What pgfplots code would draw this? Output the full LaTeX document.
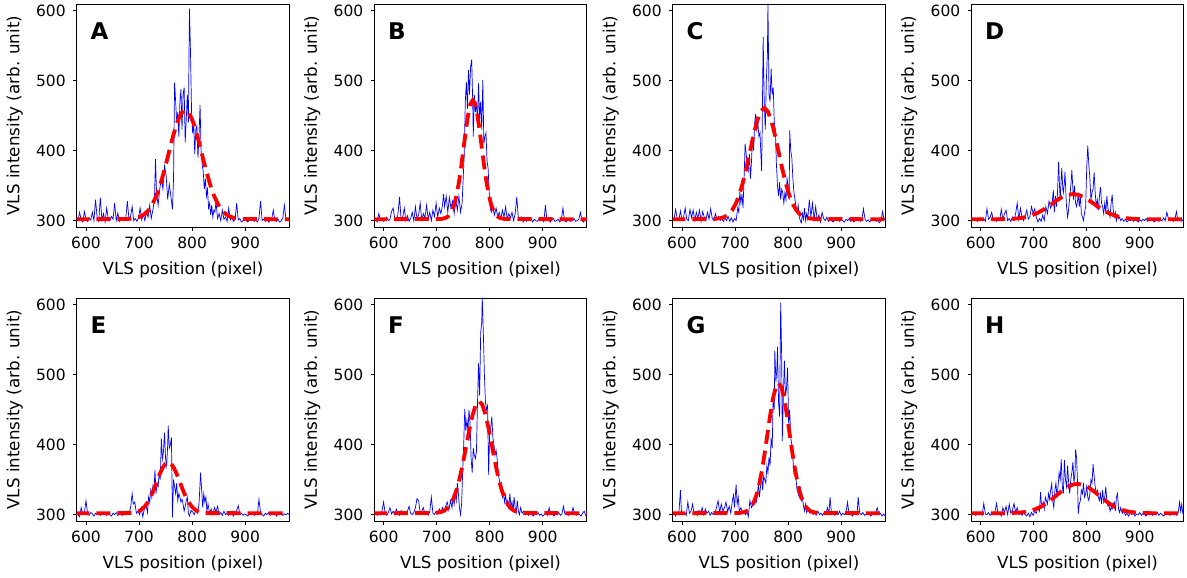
\documentclass[border=0pt]{standalone}
\usepackage{fontspec}
\setmainfont{DejaVu Sans}
\usepackage{pgfplots}
\pgfplotsset{compat=1.18}
\pgfplotsset{
 vls/.style={
  scale only axis, width=212.5pt, height=223.3pt,
  xmin=582.5, xmax=983, ymin=290.5, ymax=609.5,
  xtick={600,700,800,900}, ytick={300,400,500,600},
  tick align=outside, xtick pos=left, ytick pos=left,
  major tick length=3.5pt,
  every tick/.style={black, line width=0.8pt},
  axis line style={line width=0.8pt},
  /pgf/number format/assume math mode=true,
  ticklabel style={font=\fontsize{15.5}{15.5}\selectfont},
  yticklabel style={xshift=-4pt}, xticklabel style={yshift=-3pt},
  label style={font=\fontsize{16.7}{16.7}\selectfont},
  xlabel={VLS position (pixel)}, ylabel={VLS intensity (arb. unit)},
  xlabel style={at={(axis description cs:0.5,-0.1926)}, anchor=center},
  ylabel style={at={(axis description cs:-0.292,0.5)}, anchor=center},
 },
 blueline/.style={color={rgb,255:red,0;green,0;blue,255}, line width=0.7pt, mark=none},
 redfit/.style={color={rgb,255:red,255;green,0;blue,0}, line width=3.8pt, dash pattern=on 14pt off 7pt, mark=none},
}
\newcommand{\panel}[1]{\node[anchor=base west, xshift=10.3pt, yshift=-35.3pt, font=\fontsize{23}{23}\selectfont\bfseries] at (rel axis cs:0,1) {#1};}
\begin{document}
\begin{tikzpicture}
\useasboundingbox (0,0) rectangle (1187pt,578pt);
% ---------------- A
\begin{axis}[vls, at={(76.7pt,350.7pt)}, anchor=south west]
\addplot[blueline] coordinates {(585,300) (588,312) (591,301) (594,298) (597,313) (600,302) (603,299) (606,304) (609,301) (612,312) (615,300) (618,330) (621,305) (624,299) (627,333) (630,301) (633,310) (636,298) (639,318) (642,303) (645,300) (648,306) (651,302) (654,325) (657,300) (660,311) (663,299) (666,304) (669,301) (672,300) (675,303) (678,328) (681,302) (684,306) (687,320) (690,300) (693,303) (696,299) (699,304) (702,318) (705,301) (708,309) (711,300) (714,312) (717,305) (720,322) (723,303) (726,315) (729,330) (731,388) (733,340) (736,322) (739,345) (742,360) (745,345) (748,378) (751,365) (754,330) (757,352) (760,335) (763,316) (765,360) (767,497) (769,470) (771,440) (773,455) (775,420) (777,470) (779,488) (781,430) (783,480) (785,490) (787,412) (789,445) (791,480) (793,440) (795,603) (797,540) (799,455) (801,425) (803,440) (805,395) (807,430) (809,435) (811,390) (813,420) (815,465) (817,400) (819,380) (821,370) (823,345) (825,360) (827,335) (829,345) (831,318) (833,325) (835,308) (837,322) (839,305) (841,315) (843,312) (845,327) (848,303) (851,310) (854,300) (857,315) (860,302) (863,305) (866,299) (869,318) (872,301) (875,304) (878,299) (881,302) (884,325) (887,301) (890,303) (893,298) (896,300) (899,303) (902,300) (905,298) (908,302) (911,300) (914,304) (917,299) (920,301) (923,298) (926,303) (929,328) (932,300) (935,302) (938,299) (941,303) (944,298) (947,300) (950,302) (953,315) (956,300) (959,299) (962,302) (965,298) (968,300) (971,304) (974,322) (977,301) (980,303) (983,300)};
\addplot[redfit] coordinates {(580,302) (678.5,302.3) (694,303.7) (701.75,305.6) (709.5,308.8) (717.25,314.4) (725,323.1) (732.75,335.7) (740.5,352.7) (748.25,373.4) (756,396.6) (763.75,419.7) (771.5,439.7) (779.25,453.2) (787,458) (794.75,453.2) (802.5,439.7) (810.25,419.7) (818,396.6) (825.75,373.4) (833.5,352.7) (841.25,335.7) (849,323.1) (856.75,314.4) (864.5,308.8) (872.25,305.6) (880,303.7) (895.5,302.3) (990,302)};
\panel{A}
\end{axis}
% ---------------- B
\begin{axis}[vls, at={(374.3pt,350.7pt)}, anchor=south west]
\addplot[blueline] coordinates {(585,302) (588,298) (591,310) (594,300) (597,303) (600,299) (603,301) (606,305) (609,300) (612,302) (615,313) (618,318) (621,303) (624,300) (627,309) (630,334) (633,302) (636,305) (639,318) (642,300) (645,307) (648,299) (651,303) (654,312) (657,300) (660,320) (663,302) (666,308) (669,325) (672,301) (675,310) (678,304) (681,322) (684,303) (687,312) (690,300) (693,315) (696,306) (699,325) (702,305) (705,318) (708,310) (711,322) (713,338) (715,320) (718,335) (721,312) (724,333) (727,318) (730,328) (733,310) (736,330) (739,315) (742,335) (745,312) (748,325) (750,360) (752,395) (754,470) (756,498) (758,460) (760,515) (762,480) (764,520) (766,530) (768,470) (769,420) (771,480) (773,455) (775,470) (777,440) (779,496) (781,445) (783,470) (785,430) (787,501) (789,410) (791,420) (793,425) (795,385) (797,375) (799,340) (801,318) (803,312) (806,318) (809,308) (812,318) (815,306) (818,312) (821,303) (824,315) (827,305) (830,320) (833,302) (836,310) (839,304) (842,312) (845,300) (848,310) (851,334) (854,303) (857,300) (860,305) (863,298) (866,302) (869,299) (872,304) (875,300) (878,303) (881,298) (884,302) (887,300) (890,299) (893,303) (896,300) (899,302) (902,298) (905,322) (908,300) (911,302) (914,298) (917,301) (920,303) (923,299) (926,300) (929,302) (932,298) (935,301) (938,318) (941,300) (944,298) (947,302) (950,300) (953,299) (956,301) (959,303) (962,299) (965,300) (968,302) (971,312) (974,300) (977,298) (980,302) (983,300)};
\addplot[redfit] coordinates {(580,302) (708.5,302.4) (717,303.9) (721.25,305.9) (725.5,309.5) (729.75,315.5) (734,325.0) (738.25,338.8) (742.5,357.2) (746.75,379.8) (751,405.1) (755.25,430.3) (759.5,452.0) (763.75,466.8) (768,472) (772.25,466.8) (776.5,452.0) (780.75,430.3) (785,405.1) (789.25,379.8) (793.5,357.2) (797.75,338.8) (802,325.0) (806.25,315.5) (810.5,309.5) (814.75,305.9) (819,303.9) (827.5,302.4) (990,302)};
\panel{B}
\end{axis}
% ---------------- C
\begin{axis}[vls, at={(672.7pt,350.7pt)}, anchor=south west]
\addplot[blueline] coordinates {(585,302) (588,316) (591,303) (594,300) (597,314) (600,301) (603,305) (606,318) (609,302) (612,300) (615,316) (618,304) (621,315) (624,300) (627,312) (630,303) (633,315) (636,299) (639,313) (642,305) (645,300) (648,312) (651,302) (654,317) (657,303) (660,300) (663,310) (666,302) (669,306) (672,300) (675,303) (678,299) (681,304) (684,300) (687,306) (690,299) (693,304) (696,298) (699,303) (702,300) (705,318) (707,312) (709,341) (711,325) (713,338) (715,318) (717,360) (719,410) (721,395) (723,380) (725,372) (727,395) (729,360) (731,385) (733,420) (735,400) (737,440) (739,453) (741,430) (743,440) (745,420) (747,425) (749,390) (750,371) (751,420) (753,562) (755,470) (757,430) (759,500) (761,540) (762,610) (764,480) (766,470) (768,517) (770,480) (772,490) (774,440) (776,430) (778,380) (780,350) (782,335) (784,355) (786,330) (788,345) (790,340) (792,325) (794,340) (796,330) (798,360) (800,350) (802,330) (803,429) (805,400) (807,390) (809,360) (811,340) (813,330) (815,320) (817,312) (819,322) (821,305) (823,300) (825,297) (827,310) (829,302) (831,318) (833,300) (835,310) (837,302) (840,330) (843,305) (846,325) (849,302) (852,320) (855,300) (858,308) (861,298) (864,312) (867,303) (870,300) (873,305) (876,299) (879,302) (882,300) (885,298) (888,302) (891,300) (894,303) (897,299) (900,302) (903,300) (906,298) (909,302) (912,300) (915,303) (918,299) (921,301) (924,298) (927,302) (930,300) (933,303) (936,299) (939,301) (942,317) (945,302) (948,299) (951,301) (954,298) (957,302) (960,300) (963,303) (966,299) (969,301) (972,297) (975,300) (978,313) (981,301) (983,303)};
\addplot[redfit] coordinates {(580,302) (660.5,302.35) (674,303.8) (680.75,305.6) (687.5,309.0) (694.25,314.7) (701,323.5) (707.75,336.4) (714.5,353.6) (721.25,374.8) (728,398.4) (734.75,422.0) (741.5,442.3) (748.25,456.1) (755,461) (761.75,456.1) (768.5,442.3) (775.25,422.0) (782,398.4) (788.75,374.8) (795.5,353.6) (802.25,336.4) (809,323.5) (815.75,314.7) (822.5,309.0) (829.25,305.6) (836,303.8) (849.5,302.35) (990,302)};
\panel{C}
\end{axis}
% ---------------- D
\begin{axis}[vls, at={(971.3pt,350.7pt)}, anchor=south west]
\addplot[blueline] coordinates {(585,302) (588,300) (591,303) (594,299) (597,304) (600,301) (603,300) (606,303) (609,299) (612,317) (615,302) (618,305) (621,312) (624,300) (627,303) (630,299) (633,304) (636,301) (639,316) (642,302) (645,310) (648,315) (651,300) (654,303) (657,299) (660,305) (663,300) (666,310) (669,325) (672,302) (675,318) (678,305) (681,300) (684,306) (687,315) (690,302) (693,306) (696,320) (699,310) (702,317) (705,305) (708,298) (711,303) (714,299) (717,308) (720,300) (723,320) (726,310) (729,328) (732,318) (735,325) (737,344) (739,312) (741,335) (743,320) (745,340) (747,384) (749,345) (750,330) (752,360) (753,375) (755,345) (756,340) (758,355) (759,370) (761,335) (762,320) (764,305) (765,310) (767,325) (769,340) (771,360) (772,372) (774,345) (775,330) (777,350) (779,325) (781,320) (783,330) (784,340) (786,320) (788,335) (790,310) (792,305) (794,300) (796,312) (798,320) (800,375) (802,407) (804,380) (806,360) (808,330) (810,340) (812,345) (814,369) (816,340) (818,320) (820,330) (822,315) (824,335) (826,348) (828,325) (830,320) (832,310) (834,325) (836,312) (838,335) (840,318) (842,310) (844,305) (846,325) (848,337) (850,315) (852,305) (854,312) (856,300) (858,308) (860,303) (862,305) (864,300) (867,303) (870,299) (873,302) (876,298) (879,301) (882,300) (885,303) (888,299) (891,302) (894,300) (897,298) (900,301) (903,299) (906,302) (909,300) (912,303) (915,299) (918,301) (921,300) (924,302) (927,298) (930,300) (933,303) (936,299) (939,301) (942,300) (945,304) (948,300) (951,312) (954,303) (957,300) (960,302) (963,299) (966,301) (969,313) (972,300) (975,302) (978,299) (981,301) (983,299)};
\addplot[redfit] coordinates {(580,302) (634,302.1) (654,302.4) (664,302.8) (674,303.6) (684,304.9) (694,306.9) (704,309.8) (714,313.7) (724,318.5) (734,323.8) (744,329.2) (754,333.8) (764,336.9) (774,338) (784,336.9) (794,333.8) (804,329.2) (814,323.8) (824,318.5) (834,313.7) (844,309.8) (854,306.9) (864,304.9) (874,303.6) (884,302.8) (894,302.4) (914,302.1) (990,302)};
\panel{D}
\end{axis}
% ---------------- E
\begin{axis}[vls, at={(76.7pt,56.7pt)}, anchor=south west]
\addplot[blueline] coordinates {(585,300) (588,297) (591,310) (594,300) (597,303) (600,320) (603,302) (606,299) (609,303) (612,301) (615,298) (618,302) (621,300) (624,303) (627,299) (630,301) (633,300) (636,303) (639,299) (642,302) (645,300) (648,298) (651,302) (654,300) (657,303) (660,299) (663,301) (666,302) (669,299) (672,301) (675,300) (678,305) (681,301) (684,310) (687,330) (689,315) (692,318) (695,302) (698,305) (701,300) (704,310) (707,297) (710,308) (713,315) (716,303) (718,325) (720,318) (722,335) (724,325) (726,340) (728,330) (730,364) (732,330) (734,345) (736,340) (738,360) (740,350) (742,409) (744,380) (746,390) (748,417) (750,380) (752,370) (754,400) (755,427) (757,395) (759,400) (761,410) (763,296) (765,350) (767,340) (769,330) (771,345) (773,320) (775,330) (777,325) (779,318) (781,322) (783,315) (785,305) (787,312) (789,320) (791,325) (793,302) (795,298) (798,306) (801,304) (804,300) (807,306) (810,302) (813,315) (816,360) (818,335) (820,310) (822,330) (824,318) (826,325) (828,305) (830,315) (833,302) (836,308) (839,300) (842,310) (845,304) (848,312) (851,300) (854,303) (857,299) (860,305) (863,300) (866,302) (869,299) (872,303) (875,301) (878,298) (881,302) (884,306) (887,313) (890,300) (893,302) (896,299) (899,301) (902,300) (905,298) (908,302) (911,300) (914,303) (917,299) (920,301) (923,300) (926,322) (929,303) (932,300) (935,298) (938,302) (941,300) (944,303) (947,299) (950,301) (953,300) (956,302) (959,298) (962,301) (965,300) (968,303) (971,299) (974,301) (977,300) (980,302) (983,300)};
\addplot[redfit] coordinates {(580,302) (678,302.2) (689,302.8) (694.5,303.7) (700,305.2) (705.5,307.8) (711,311.9) (716.5,317.8) (722,325.7) (727.5,335.4) (733,346.3) (738.5,357.1) (744,366.4) (749.5,372.8) (755,375) (760.5,372.8) (766,366.4) (771.5,357.1) (777,346.3) (782.5,335.4) (788,325.7) (793.5,317.8) (799,311.9) (804.5,307.8) (810,305.2) (815.5,303.7) (821,302.8) (832,302.2) (990,302)};
\panel{E}
\end{axis}
% ---------------- F
\begin{axis}[vls, at={(374.3pt,56.7pt)}, anchor=south west]
\addplot[blueline] coordinates {(585,302) (588,299) (591,303) (594,300) (597,305) (600,318) (603,302) (606,299) (609,303) (612,310) (615,301) (618,305) (621,300) (624,308) (627,302) (630,299) (633,306) (636,301) (639,303) (642,300) (645,305) (648,312) (651,302) (654,300) (657,303) (660,310) (663,323) (666,320) (669,303) (672,305) (675,310) (678,300) (681,303) (684,299) (687,304) (690,325) (693,302) (696,300) (699,305) (702,301) (705,308) (708,303) (711,310) (714,304) (717,312) (720,318) (723,306) (726,320) (729,310) (731,325) (733,315) (735,330) (737,320) (739,345) (741,330) (743,310) (745,300) (747,315) (749,360) (751,400) (753,451) (755,420) (757,435) (759,420) (761,450) (763,430) (765,380) (767,360) (769,395) (771,385) (773,380) (775,390) (777,460) (779,516) (781,470) (783,560) (785,575) (786,610) (788,560) (790,500) (792,460) (794,450) (796,456) (798,357) (800,420) (802,425) (804,440) (806,410) (808,400) (810,385) (812,392) (814,380) (816,360) (818,350) (820,340) (822,345) (824,325) (826,330) (828,318) (830,328) (832,315) (834,320) (836,310) (838,330) (840,312) (842,318) (844,305) (846,325) (848,310) (850,303) (852,320) (854,305) (856,300) (858,310) (861,302) (864,305) (867,300) (870,303) (873,299) (876,302) (879,300) (882,298) (885,301) (888,300) (891,303) (894,299) (897,301) (900,298) (903,300) (906,302) (909,299) (912,310) (915,300) (918,302) (921,298) (924,301) (927,300) (930,303) (933,299) (936,301) (939,312) (942,300) (945,302) (948,299) (951,301) (954,300) (957,310) (960,302) (963,299) (966,303) (969,300) (972,298) (975,302) (978,305) (981,299) (983,301)};
\addplot[redfit] coordinates {(580,302) (696,302.35) (708,303.8) (714,305.6) (720,309.0) (726,314.7) (732,323.6) (738,336.6) (744,354.0) (750,375.2) (756,399.0) (762,422.8) (768,443.2) (774,457.1) (780,462) (786,457.1) (792,443.2) (798,422.8) (804,399.0) (810,375.2) (816,354.0) (822,336.6) (828,323.6) (834,314.7) (840,309.0) (846,305.6) (852,303.8) (864,302.35) (990,302)};
\panel{F}
\end{axis}
% ---------------- G
\begin{axis}[vls, at={(672.7pt,56.7pt)}, anchor=south west]
\addplot[blueline] coordinates {(585,302) (588,298) (591,303) (594,300) (597,335) (599,305) (602,300) (605,303) (608,299) (611,318) (614,302) (617,305) (620,315) (623,300) (626,303) (629,299) (632,306) (635,302) (638,310) (641,300) (644,308) (647,302) (650,305) (653,299) (656,303) (659,300) (662,302) (665,310) (668,320) (671,303) (674,315) (677,305) (680,310) (683,318) (686,304) (689,312) (692,302) (695,320) (697,328) (699,310) (702,343) (704,315) (706,325) (708,305) (711,310) (714,302) (717,306) (720,300) (723,304) (725,297) (728,320) (731,310) (734,315) (737,325) (740,318) (742,330) (744,343) (746,325) (748,340) (750,360) (752,335) (754,355) (756,350) (758,345) (760,370) (762,360) (764,382) (766,370) (768,410) (770,395) (772,470) (774,450) (775,534) (777,490) (779,510) (780,540) (782,460) (784,440) (786,603) (788,520) (789,405) (791,470) (793,520) (795,470) (797,480) (799,510) (801,430) (803,450) (805,410) (807,400) (809,380) (811,360) (813,365) (815,350) (817,335) (819,330) (821,325) (823,340) (825,320) (827,325) (829,312) (831,305) (833,315) (835,303) (838,310) (841,302) (844,306) (847,300) (850,303) (853,299) (856,305) (859,300) (862,302) (865,299) (868,303) (871,300) (874,310) (877,302) (879,325) (882,300) (885,303) (888,299) (891,302) (894,300) (897,305) (900,299) (903,302) (906,300) (909,303) (912,318) (915,300) (918,302) (921,298) (924,301) (927,303) (930,300) (932,325) (935,302) (938,300) (941,303) (944,299) (947,301) (950,300) (953,302) (956,298) (959,301) (962,300) (965,303) (968,310) (971,300) (974,302) (977,298) (980,301) (983,298)};
\addplot[redfit] coordinates {(580,302) (708.5,302.4) (719,304.1) (724.25,306.2) (729.5,310.2) (734.75,316.8) (740,327.2) (745.25,342.2) (750.5,362.4) (755.75,387.2) (761,414.8) (766.25,442.4) (771.5,466.1) (776.75,482.3) (782,488) (787.25,482.3) (792.5,466.1) (797.75,442.4) (803,414.8) (808.25,387.2) (813.5,362.4) (818.75,342.2) (824,327.2) (829.25,316.8) (834.5,310.2) (839.75,306.2) (845,304.1) (855.5,302.4) (990,302)};
\panel{G}
\end{axis}
% ---------------- H
\begin{axis}[vls, at={(971.3pt,56.7pt)}, anchor=south west]
\addplot[blueline] coordinates {(585,300) (588,302) (591,299) (594,301) (597,300) (600,303) (603,299) (606,316) (609,301) (612,300) (615,303) (618,299) (621,302) (624,300) (627,304) (630,316) (633,300) (636,302) (639,298) (642,310) (645,303) (648,312) (651,300) (654,315) (657,302) (660,306) (663,316) (666,303) (669,310) (672,300) (675,302) (678,299) (681,303) (684,300) (687,298) (690,302) (693,297) (696,303) (699,299) (702,305) (705,302) (708,310) (711,305) (713,332) (715,312) (718,318) (720,308) (722,325) (724,320) (726,315) (728,330) (730,322) (732,335) (734,344) (736,320) (738,310) (740,335) (742,345) (744,325) (746,340) (748,360) (750,350) (752,379) (754,340) (756,330) (758,378) (760,350) (762,340) (764,370) (766,345) (768,330) (770,350) (772,360) (774,375) (776,345) (778,360) (779,393) (781,380) (783,340) (784,301) (786,315) (788,320) (790,335) (792,330) (794,345) (796,325) (798,330) (800,340) (802,325) (804,320) (806,330) (808,350) (810,345) (812,372) (814,355) (816,340) (818,330) (820,335) (822,325) (824,320) (826,330) (828,315) (830,335) (832,318) (834,325) (836,340) (838,318) (840,312) (842,315) (844,305) (846,310) (848,308) (850,315) (852,318) (854,305) (856,325) (858,330) (860,308) (862,303) (864,310) (867,302) (870,305) (873,299) (876,302) (879,298) (882,303) (885,300) (888,302) (891,298) (894,301) (897,300) (900,303) (903,299) (906,302) (909,300) (912,298) (915,301) (918,300) (921,302) (924,299) (927,301) (930,300) (933,303) (936,299) (939,302) (942,300) (945,298) (948,301) (951,300) (954,302) (957,299) (960,301) (963,300) (966,302) (969,299) (972,301) (975,318) (977,305) (979,315) (981,302) (983,300)};
\addplot[redfit] coordinates {(580,302) (643,302.1) (663,302.5) (673,303.0) (683,303.8) (693,305.3) (703,307.7) (713,311.1) (723,315.6) (733,321.2) (743,327.5) (753,333.7) (763,339.1) (773,342.7) (783,344) (793,342.7) (803,339.1) (813,333.7) (823,327.5) (833,321.2) (843,315.6) (853,311.1) (863,307.7) (873,305.3) (883,303.8) (893,303.0) (903,302.5) (923,302.1) (990,302)};
\panel{H}
\end{axis}
\end{tikzpicture}
\end{document}
